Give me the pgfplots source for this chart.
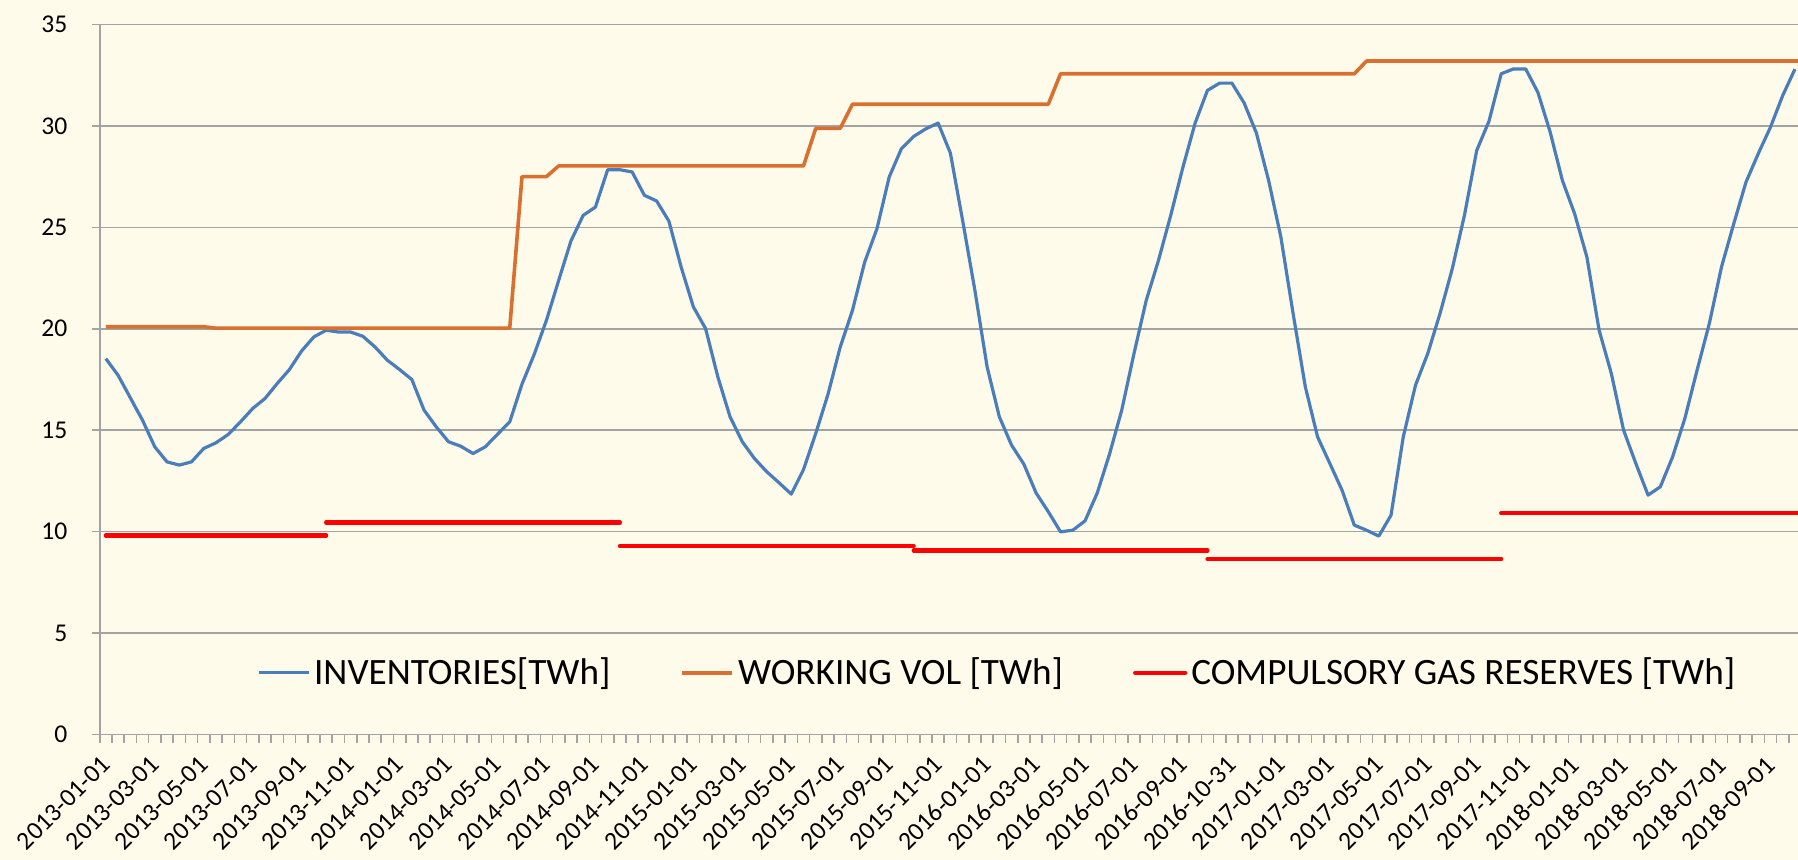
\documentclass[border=0pt]{standalone}
\usepackage{pgfplots}
\usepackage{pgfplotstable}
\pgfplotsset{compat=1.18}
\usepackage{fontspec}
\setmainfont{Carlito}
\definecolor{bgc}{HTML}{FFFBEB}
\definecolor{gridc}{HTML}{A3A3A3}
\definecolor{blueL}{HTML}{4A7EBB}
\definecolor{orangeL}{HTML}{D9702F}
\definecolor{redL}{HTML}{FF0000}

\pgfplotstableread{
k v
0 18.53
1 17.71
2 16.60
3 15.49
4 14.18
5 13.44
6 13.28
7 13.44
8 14.10
9 14.38
10 14.79
11 15.41
12 16.07
13 16.56
14 17.30
15 17.99
16 18.91
17 19.60
18 19.93
19 19.84
20 19.84
21 19.63
22 19.10
23 18.45
24 17.99
25 17.50
26 15.99
27 15.16
28 14.43
29 14.21
30 13.85
31 14.18
32 14.80
33 15.41
34 17.27
35 18.74
36 20.42
37 22.39
38 24.33
39 25.59
40 26.00
41 27.84
42 27.84
43 27.73
44 26.58
45 26.30
46 25.31
47 23.05
48 21.08
49 20.01
50 17.63
51 15.66
52 14.43
53 13.60
54 12.95
55 12.41
56 11.85
57 13.06
58 14.84
59 16.77
60 19.10
61 20.91
62 23.29
63 24.93
64 27.48
65 28.88
66 29.48
67 29.86
68 30.14
69 28.66
70 25.34
71 21.90
72 18.12
73 15.66
74 14.26
75 13.33
76 11.91
77 10.98
78 9.99
79 10.07
80 10.53
81 11.91
82 13.82
83 15.99
84 18.78
85 21.40
86 23.37
87 25.59
88 27.97
89 30.15
90 31.75
91 32.11
92 32.11
93 31.13
94 29.65
95 27.31
96 24.52
97 20.75
98 17.13
99 14.67
100 13.36
101 12.04
102 10.32
103 10.07
104 9.78
105 10.81
106 14.67
107 17.22
108 18.78
109 20.75
110 22.95
111 25.60
112 28.79
113 30.23
114 32.57
115 32.81
116 32.81
117 31.65
118 29.70
119 27.31
120 25.67
121 23.54
122 19.93
123 17.79
124 15.00
125 13.36
126 11.80
127 12.21
128 13.68
129 15.57
130 17.95
131 20.25
132 23.05
133 25.18
134 27.23
135 28.63
136 29.94
137 31.50
138 32.80
}\inv

\pgfplotstableread{
k v
0 20.10
8 20.10
9 20.03
33 20.03
34 27.50
36 27.50
37 28.03
57 28.03
58 29.88
60 29.88
61 31.07
77 31.07
78 32.57
102 32.57
103 33.20
138.5 33.20
}\wvol

\pgfplotstableread{
k v
0 9.81
18 9.81
18 nan
18 10.45
42 10.45
42 nan
42 9.29
66 9.29
66 nan
66 9.07
90 9.07
90 nan
90 8.65
114 8.65
114 nan
114 10.90
138.5 10.90
}\cgr

\begin{document}
\begin{tikzpicture}
\path[use as bounding box, fill=bgc] (-49.85pt,-62.75pt) rectangle (849.15pt,367.25pt);
\begin{axis}[
  at={(0pt,0pt)}, anchor=south west,
  scale only axis, width=849.15pt, height=355pt,
  xmin=-0.5, xmax=138.25, ymin=0, ymax=35,
  axis x line*=bottom, axis y line*=left,
  axis line style={-, draw=gridc, line width=0.8pt},
  tick align=outside,
  major tick length=4pt, minor tick length=4.2pt,
  ytick={0,5,...,35},
  xtick={0,4,...,136},
  xticklabels={2013-01-01,2013-03-01,2013-05-01,2013-07-01,2013-09-01,2013-11-01,
    2014-01-01,2014-03-01,2014-05-01,2014-07-01,2014-09-01,2014-11-01,
    2015-01-01,2015-03-01,2015-05-01,2015-07-01,2015-09-01,2015-11-01,
    2016-01-01,2016-03-01,2016-05-01,2016-07-01,2016-09-01,2016-10-31,
    2017-01-01,2017-03-01,2017-05-01,2017-07-01,2017-09-01,2017-11-01,
    2018-01-01,2018-03-01,2018-05-01,2018-07-01,2018-09-01},
  minor xtick={-0.5,0.5,...,138.5},
  xtick style={draw=none},
  minor x tick style={draw=gridc, line width=0.8pt},
  ytick style={draw=gridc, line width=0.8pt},
  ymajorgrids, major grid style={draw=gridc, line width=0.8pt},
  /pgf/number format/assume math mode=true,
  ticklabel style={font=\fontsize{12.8}{15}\selectfont, text=black},
  yticklabel style={anchor=east, inner sep=0pt, xshift=-12pt},
  xticklabel style={yshift=-9pt, rotate=45, anchor=east, inner sep=0pt},
  unbounded coords=jump,
  legend columns=3,
  legend style={at={(rel axis cs:0.529,0.087)}, anchor=center, draw=none, fill=none,
    font=\fontsize{18.6}{22}\selectfont, nodes={inner sep=2pt},
    /tikz/every even column/.append style={column sep=33pt}},
  legend image code/.code={\draw[#1] (0pt,0pt) -- (25pt,0pt);},
]
\addplot[blueL, line width=1.6pt, line join=round, no markers] table[x=k, y=v] {\inv};
\addlegendentry{INVENTORIES[TWh]}
\addplot[orangeL, line width=1.8pt, line join=round, no markers] table[x=k, y=v] {\wvol};
\addlegendentry{WORKING VOL [TWh]}
\addplot[redL, line width=2.1pt, line cap=round, no markers] table[x=k, y=v] {\cgr};
\addlegendentry{COMPULSORY GAS RESERVES [TWh]}
\end{axis}
\end{tikzpicture}
\end{document}
